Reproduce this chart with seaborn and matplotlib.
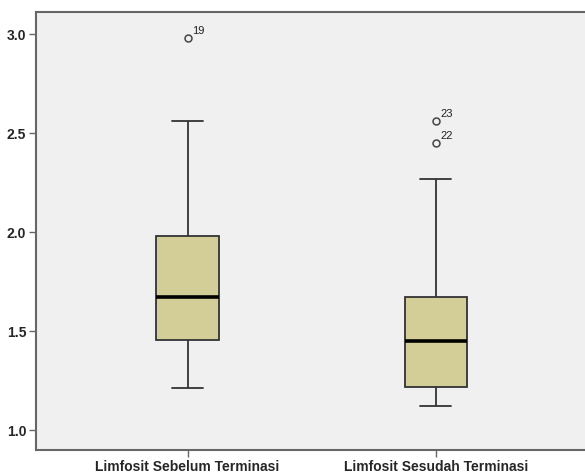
import numpy as np
import pandas as pd
import matplotlib
matplotlib.use("Agg")
import matplotlib.pyplot as plt
import seaborn as sns

# group labels
categories = ["Limfosit Sebelum Terminasi", "Limfosit Sesudah Terminasi"]

# values per case (case number = position + 1)
sebelum = [1.21, 1.28, 1.32, 1.36, 1.40, 1.43, 1.455, 1.50, 1.54, 1.58,
           1.62, 1.65, 1.67, 1.72, 1.78, 1.84, 1.89, 1.94, 2.98, 2.05,
           2.14, 2.27, 2.40, 2.56, 1.98]
sesudah = [1.12, 1.15, 1.17, 1.19, 1.20, 1.21, 1.215, 1.25, 1.30, 1.35,
           1.39, 1.42, 1.45, 1.48, 1.52, 1.56, 1.60, 1.64, 1.67, 1.80,
           1.95, 2.45, 2.56, 2.10, 2.27]

yticks = [1.0, 1.5, 2.0, 2.5, 3.0]

df = pd.DataFrame({
    "group": [categories[0]] * len(sebelum) + [categories[1]] * len(sesudah),
    "value": sebelum + sesudah,
    "case": list(range(1, len(sebelum) + 1)) + list(range(1, len(sesudah) + 1)),
})

sns.set_style("white")
plt.rcParams["font.family"] = ["Liberation Sans", "DejaVu Sans"]

fig = plt.figure(figsize=(5.85, 4.73), dpi=100)
ax = fig.add_axes([0.0615, 0.0486, 0.9385, 0.925])
ax.set_facecolor("#f0f0f0")

sns.boxplot(data=df, x="group", y="value", order=categories, ax=ax,
            width=0.25, color="#d3ce97", saturation=1, whis=1.5,
            linecolor="#333333", linewidth=1.3,
            medianprops=dict(color="black", linewidth=2.6),
            flierprops=dict(marker="o", markersize=5, markerfacecolor="none",
                            markeredgecolor="#444444", markeredgewidth=1.1))

# label outliers with case numbers (SPSS style)
for i, cat in enumerate(categories):
    sub = df[df["group"] == cat]
    q1, q3 = np.percentile(sub["value"], [25, 75])
    iqr = q3 - q1
    out = sub[(sub["value"] > q3 + 1.5 * iqr) | (sub["value"] < q1 - 1.5 * iqr)]
    for _, r in out.iterrows():
        ax.annotate(str(r["case"]), (i, r["value"]), xytext=(3, 3),
                    textcoords="offset points", fontsize=8, color="#222222")

ax.set_xlim(-0.61, 1.60)
ax.set_ylim(0.899, 3.109)
ax.set_yticks(yticks)
ax.set_yticklabels([f"{t:.1f}" for t in yticks])
ax.set_xlabel("")
ax.set_ylabel("")
ax.tick_params(axis="both", direction="out", length=5, width=1, color="#666666",
               labelsize=10, pad=2, bottom=True, left=True)
for lab in ax.get_xticklabels() + ax.get_yticklabels():
    lab.set_fontweight("bold")

for s in ["left", "bottom", "top"]:
    ax.spines[s].set_visible(True)
    ax.spines[s].set_color("#666666")
    ax.spines[s].set_linewidth(1.5)
ax.spines["right"].set_visible(False)

fig.savefig("out.png", dpi=100, facecolor="white")
